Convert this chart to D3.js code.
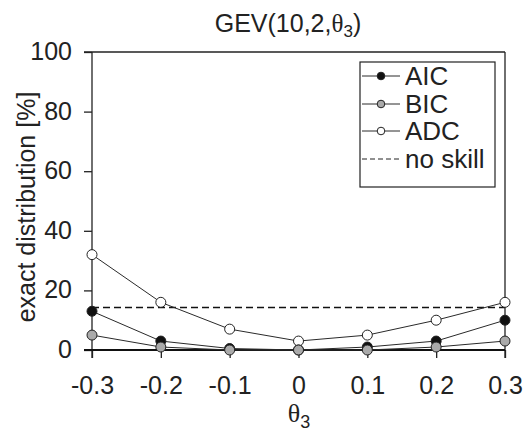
<!DOCTYPE html>
<html><head><meta charset="utf-8">
<script src="https://cdn.jsdelivr.net/npm/d3@7"></script>
<style>body{margin:0;background:#fff}svg{display:block}text{font-family:"Liberation Sans",Arial,sans-serif;fill:#222}</style>
</head><body>
<script>
const theta = [-0.3, -0.2, -0.1, 0, 0.1, 0.2, 0.3];
const xTickLabels = ["-0.3", "-0.2", "-0.1", "0", "0.1", "0.2", "0.3"];
const yTicks = [0, 20, 40, 60, 80, 100];
const aic = [13, 3, 0.5, 0, 1, 3, 10];
const bic = [5, 1, 0, 0, 0, 1, 3];
const adc = [32, 16, 7, 3, 5, 10, 16];
const noSkill = 100 / 7;
const seriesNames = ["AIC", "BIC", "ADC"];
const seriesFills = ["#111", "#aaa", "#fff"];

const W = 524, H = 431;
const svg = d3.select("body").append("svg").attr("width", W).attr("height", H);
const x = d3.scaleLinear().domain([-0.3, 0.3]).range([92, 505]);
const y = d3.scaleLinear().domain([0, 100]).range([350, 52]);
const bottom = 358;
const ink = "#222";

// frame lines
svg.append("line").attr("x1", 84).attr("x2", 505).attr("y1", y(100)).attr("y2", y(100)).attr("stroke", ink).attr("stroke-width", 1.3);
svg.append("line").attr("x1", 92).attr("x2", 92).attr("y1", y(100)).attr("y2", bottom).attr("stroke", ink).attr("stroke-width", 1.3);
svg.append("line").attr("x1", 505).attr("x2", 505).attr("y1", y(100)).attr("y2", bottom).attr("stroke", ink).attr("stroke-width", 1.3);

// y axis
const yAxis = d3.axisLeft(y).tickValues(yTicks).tickSize(8).tickPadding(12).tickFormat(d3.format("d"));
const gy = svg.append("g").attr("transform", "translate(92,0)").call(yAxis);
gy.select(".domain").remove();
gy.selectAll("line").attr("stroke", ink).attr("stroke-width", 1.3);
gy.selectAll("text").style("font-size", "25px").attr("fill", ink).attr("dy", "0.3em");

// x axis ticks (downward from zero line)
const xAxis = d3.axisBottom(x).tickValues(theta).tickSize(8).tickPadding(18).tickFormat((d, i) => xTickLabels[i]);
const gx = svg.append("g").attr("transform", `translate(0,${y(0)})`).call(xAxis);
gx.select(".domain").remove();
gx.selectAll("line").attr("stroke", ink).attr("stroke-width", 1.3);
gx.selectAll("text").style("font-size", "25px").attr("fill", ink);

// zero line
svg.append("line").attr("x1", 84).attr("x2", 505).attr("y1", y(0)).attr("y2", y(0)).attr("stroke", "#111").attr("stroke-width", 2.2);

// no skill line
svg.append("line").attr("x1", x(-0.3)).attr("x2", x(0.3)).attr("y1", y(noSkill)).attr("y2", y(noSkill))
  .attr("stroke", "#111").attr("stroke-width", 1.6).attr("stroke-dasharray", "7,4");

const line = d3.line().x((d, i) => x(theta[i])).y(d => y(d));
const data = [adc, aic, bic];
const fills = ["#fff", "#111", "#aaa"];
data.forEach((s, k) => {
  svg.append("path").attr("d", line(s)).attr("fill", "none").attr("stroke", "#2a2a2a").attr("stroke-width", 1);
  svg.selectAll(null).data(s).enter().append("circle")
    .attr("cx", (d, i) => x(theta[i])).attr("cy", d => y(d)).attr("r", 5)
    .attr("fill", fills[k]).attr("stroke", "#222").attr("stroke-width", 1);
});

// legend
const lg = svg.append("g");
lg.append("rect").attr("x", 360).attr("y", 62).attr("width", 135).attr("height", 125).attr("fill", "#fff").attr("stroke", ink).attr("stroke-width", 1.2);
const rows = [76, 104, 131, 159];
seriesNames.forEach((n, i) => {
  lg.append("line").attr("x1", 362).attr("x2", 400).attr("y1", rows[i]).attr("y2", rows[i]).attr("stroke", "#2a2a2a").attr("stroke-width", 1);
  lg.append("circle").attr("cx", 381).attr("cy", rows[i]).attr("r", 3.8).attr("fill", seriesFills[i]).attr("stroke", "#222").attr("stroke-width", 1);
  lg.append("text").attr("x", 405).attr("y", rows[i]).attr("dy", "0.36em").style("font-size", "26px").text(n);
});
lg.append("line").attr("x1", 362).attr("x2", 400).attr("y1", rows[3]).attr("y2", rows[3]).attr("stroke", "#222").attr("stroke-width", 1).attr("stroke-dasharray", "5,3");
lg.append("text").attr("x", 405).attr("y", rows[3]).attr("dy", "0.36em").style("font-size", "26px").text("no skill");

// title
const t = svg.append("text").attr("x", 288).attr("y", 32).attr("text-anchor", "middle").style("font-size", "25px");
t.append("tspan").text("GEV(10,2,");
t.append("tspan").style("font-family", "'Liberation Serif',serif").text("θ");
t.append("tspan").attr("dy", 5).style("font-size", "17px").text("3");
t.append("tspan").attr("dy", -5).text(")");

// x label
const xl = svg.append("text").attr("x", 299).attr("y", 422).attr("text-anchor", "middle").style("font-size", "26px");
xl.append("tspan").style("font-family", "'Liberation Serif',serif").text("θ");
xl.append("tspan").attr("dy", 6).style("font-size", "18px").text("3");

// y label
svg.append("text").attr("transform", "translate(35,207) rotate(-90)").attr("text-anchor", "middle").style("font-size", "25px").text("exact distribution [%]");
</script>
</body></html>
